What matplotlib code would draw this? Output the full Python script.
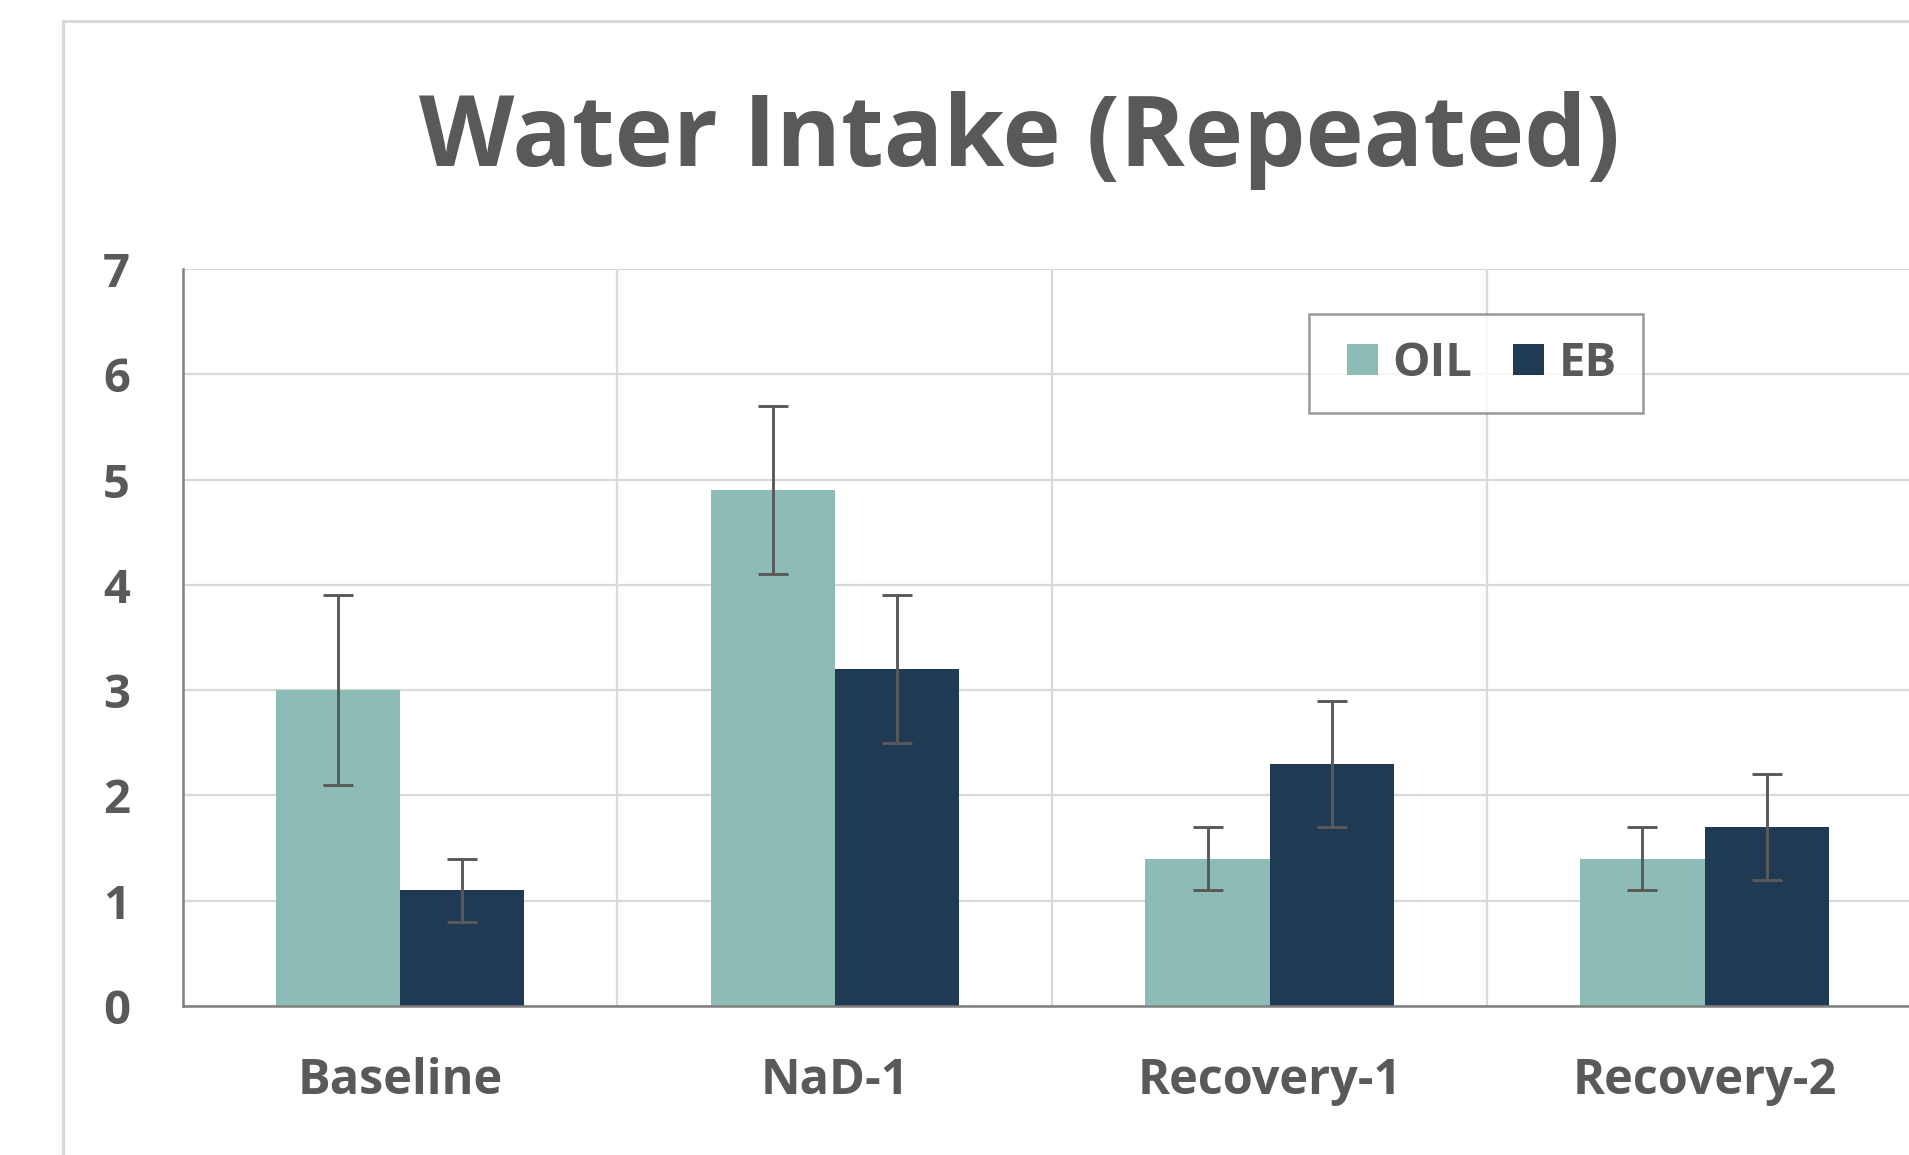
import matplotlib
matplotlib.use("Agg")
import matplotlib.pyplot as plt
import numpy as np
from matplotlib.patches import Rectangle
from matplotlib.container import BarContainer
from matplotlib.legend_handler import HandlerPatch, update_from_first_child

categories = ["Baseline", "NaD-1", "Recovery-1", "Recovery-2"]
oil_values = [3.0, 4.9, 1.4, 1.4]
oil_errors = [0.9, 0.8, 0.3, 0.3]
eb_values = [1.1, 3.2, 2.3, 1.7]
eb_errors = [0.3, 0.7, 0.6, 0.5]
series_names = ["OIL", "EB"]
y_ticks = [0, 1, 2, 3, 4, 5, 6, 7]

OIL_COLOR = "#8DBBB5"
EB_COLOR = "#1F3A52"
TEXT = "#595959"
GRID = "#D9D9D9"
AXIS = "#7F7F7F"

plt.rcParams['font.family'] = ['Open Sans', 'DejaVu Sans']

W, H = 1909, 1155
fig = plt.figure(figsize=(W / 100, H / 100), dpi=100)

# outer chart border (extends past right/bottom edges)
fig.patches.append(Rectangle((63 / W, -0.1), 1.2, 1 - 21 / H + 0.1,
                             transform=fig.transFigure, fill=False,
                             edgecolor="#D9D9D9", linewidth=2.2, zorder=0))

left, right, top, bottom = 182.6, 1922.0, 269.0, 1006.0
ax = fig.add_axes([left / W, (H - bottom) / H, (right - left) / W, (bottom - top) / H])

x = np.arange(len(categories))
bw = 0.286
err_kw = dict(ecolor=TEXT, elinewidth=2.1, capsize=11, capthick=2.1)
ax.bar(x - bw / 2, oil_values, bw, yerr=oil_errors, color=OIL_COLOR,
       label=series_names[0], error_kw=err_kw, zorder=3)
ax.bar(x + bw / 2, eb_values, bw, yerr=eb_errors, color=EB_COLOR,
       label=series_names[1], error_kw=err_kw, zorder=3)

ax.set_xlim(-0.5, len(categories) - 0.5)
ax.set_ylim(0, 7)
ax.set_yticks(y_ticks)
ax.set_xticks(x)
ax.set_xticklabels(categories)
ax.set_xticks(np.arange(-0.5, len(categories), 1.0), minor=True)

ax.grid(axis="y", which="major", color=GRID, linewidth=1.6, zorder=0)
ax.grid(axis="x", which="minor", color=GRID, linewidth=1.6, zorder=0)
ax.grid(axis="x", which="major", visible=False)

for s in ["top", "right"]:
    ax.spines[s].set_visible(False)
ax.spines["left"].set_color(AXIS)
ax.spines["left"].set_linewidth(1.8)
ax.spines["bottom"].set_color(AXIS)
ax.spines["bottom"].set_linewidth(1.8)
ax.spines["bottom"].set_zorder(4)

ax.tick_params(axis="both", which="both", length=0)
ax.tick_params(axis="y", pad=38, labelsize=34, labelcolor=TEXT)
ax.tick_params(axis="x", pad=37, labelsize=35, labelcolor=TEXT)
for lab in ax.get_yticklabels() + ax.get_xticklabels():
    lab.set_fontweight("bold")

fig.text(1020 / W, 1 - 141 / H, "Water Intake (Repeated)", ha="center", va="center",
         fontsize=71, fontweight="bold", color=TEXT)


def square_right(legend, orig_handle, xdescent, ydescent, width, height, fontsize):
    s = height
    return Rectangle((width - s - xdescent, -ydescent), s, s)


leg = ax.legend(loc="upper left", bbox_to_anchor=((1309 - left) / (right - left), 1 - (314 - top) / (bottom - top)),
                ncol=2, frameon=True, fancybox=False, borderaxespad=0,
                handlelength=0.92, handleheight=0.64, handletextpad=0.3,
                columnspacing=0.6, borderpad=0.55, prop={"weight": "bold", "size": 34},
                handler_map={BarContainer: HandlerPatch(patch_func=square_right,
                                                        update_func=update_from_first_child)})
leg.get_frame().set_edgecolor(AXIS)
leg.get_frame().set_linewidth(1.8)
for t in leg.get_texts():
    t.set_color(TEXT)

fig.savefig("out.png", dpi=100)
